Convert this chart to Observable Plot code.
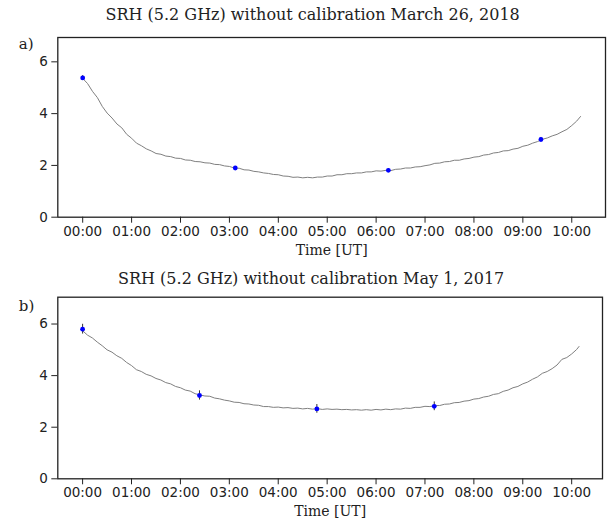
<!DOCTYPE html>
<html>
<head>
<meta charset="utf-8">
<script src="https://cdn.jsdelivr.net/npm/d3@7"></script>
<script src="https://cdn.jsdelivr.net/npm/@observablehq/plot@0.6"></script>
<style>
  html, body { margin: 0; padding: 0; background: #fff; }
  #wrap { width: 612px; height: 524px; position: relative; overflow: hidden; }
  #wrap svg { display: block; }
</style>
</head>
<body>
<div id="wrap"></div>
<script>
// ---------- data ----------
const titleA = "SRH (5.2 GHz) without calibration March 26, 2018";
const titleB = "SRH (5.2 GHz) without calibration May 1, 2017";
const panelA = "a)";
const panelB = "b)";
const xLabel = "Time [UT]";

const tickHours = [0, 1, 2, 3, 4, 5, 6, 7, 8, 9, 10];
const tickLabels = ["00:00","01:00","02:00","03:00","04:00","05:00","06:00","07:00","08:00","09:00","10:00"];
const yTicks = [0, 2, 4, 6];
const yTickLabels = ["0", "2", "4", "6"];

// Panel a: gray curve (time in hours UT, value)
const timeA = [0.0,0.1,0.2,0.3,0.4,0.5,0.6,0.7,0.8,0.9,1.0,1.1,1.2,1.3,1.4,1.5,1.6,1.7,1.8,1.9,
  2.0,2.1,2.2,2.3,2.4,2.5,2.6,2.7,2.8,2.9,3.0,3.1,3.2,3.3,3.4,3.5,3.6,3.7,3.8,3.9,
  4.0,4.1,4.2,4.3,4.4,4.5,4.6,4.7,4.8,4.9,5.0,5.1,5.2,5.3,5.4,5.5,5.6,5.7,5.8,5.9,
  6.0,6.1,6.2,6.3,6.4,6.5,6.6,6.7,6.8,6.9,7.0,7.1,7.2,7.3,7.4,7.5,7.6,7.7,7.8,7.9,
  8.0,8.1,8.2,8.3,8.4,8.5,8.6,8.7,8.8,8.9,9.0,9.1,9.2,9.3,9.4,9.5,9.6,9.7,9.8,9.9,
  10.0,10.1,10.18];
const valueA = [5.36,5.16,4.86,4.62,4.28,4.02,3.83,3.60,3.45,3.20,3.05,2.86,2.76,2.64,2.56,2.46,2.43,2.36,2.34,2.28,
  2.27,2.21,2.20,2.15,2.14,2.10,2.09,2.04,2.03,1.98,1.96,1.90,1.89,1.83,1.82,1.77,1.75,1.71,1.69,1.65,
  1.64,1.59,1.58,1.54,1.55,1.52,1.54,1.52,1.55,1.55,1.59,1.59,1.64,1.64,1.68,1.68,1.71,1.71,1.75,1.75,
  1.79,1.78,1.81,1.80,1.85,1.86,1.90,1.90,1.94,1.95,1.99,2.02,2.08,2.09,2.14,2.15,2.20,2.20,2.25,2.27,
  2.32,2.34,2.40,2.42,2.48,2.50,2.56,2.57,2.63,2.66,2.74,2.78,2.86,2.92,3.01,3.06,3.14,3.20,3.30,3.39,
  3.54,3.71,3.89];
// Panel a: calibration points
const ptTimeA = [0.0, 3.12, 6.25, 9.37];
const ptValueA = [5.38, 1.90, 1.81, 3.00];
const ptErrA = [0.09, 0.06, 0.06, 0.08];

// Panel b: gray curve
const timeB = [0.0,0.1,0.2,0.3,0.4,0.5,0.6,0.7,0.8,0.9,1.0,1.1,1.2,1.3,1.4,1.5,1.6,1.7,1.8,1.9,
  2.0,2.1,2.2,2.3,2.4,2.5,2.6,2.7,2.8,2.9,3.0,3.1,3.2,3.3,3.4,3.5,3.6,3.7,3.8,3.9,
  4.0,4.1,4.2,4.3,4.4,4.5,4.6,4.7,4.8,4.9,5.0,5.1,5.2,5.3,5.4,5.5,5.6,5.7,5.8,5.9,
  6.0,6.1,6.2,6.3,6.4,6.5,6.6,6.7,6.8,6.9,7.0,7.1,7.2,7.3,7.4,7.5,7.6,7.7,7.8,7.9,
  8.0,8.1,8.2,8.3,8.4,8.5,8.6,8.7,8.8,8.9,9.0,9.1,9.2,9.3,9.4,9.5,9.6,9.7,9.8,9.9,
  10.0,10.1,10.15];
const valueB = [5.74,5.57,5.46,5.30,5.16,5.00,4.91,4.77,4.67,4.51,4.39,4.23,4.16,4.05,3.99,3.89,3.83,3.73,3.68,3.58,
  3.53,3.44,3.40,3.30,3.25,3.21,3.20,3.13,3.10,3.05,3.02,2.97,2.96,2.91,2.90,2.86,2.85,2.80,2.80,2.77,
  2.78,2.75,2.76,2.73,2.74,2.71,2.73,2.70,2.72,2.69,2.71,2.69,2.70,2.68,2.69,2.67,2.68,2.66,2.68,2.66,
  2.69,2.67,2.70,2.68,2.71,2.70,2.74,2.73,2.77,2.77,2.81,2.80,2.84,2.84,2.89,2.90,2.95,2.96,3.01,3.03,
  3.09,3.11,3.17,3.20,3.27,3.30,3.39,3.44,3.53,3.58,3.68,3.75,3.86,3.95,4.09,4.16,4.27,4.41,4.63,4.70,
  4.84,5.01,5.13];
// Panel b: calibration points
const ptTimeB = [0.0, 2.39, 4.79, 7.19];
const ptValueB = [5.80, 3.23, 2.71, 2.81];
const ptErrB = [0.19, 0.18, 0.17, 0.17];

// ---------- drawing ----------
const serif = "DejaVu Serif";
const sans = "DejaVu Sans";

function panel(opts) {
  const curve = opts.time.map((t, i) => ({t, v: opts.value[i]}));
  const pts = opts.ptTime.map((t, i) => ({t, v: opts.ptValue[i], e: opts.ptErr[i]}));
  return Plot.plot({
    width: 612,
    height: opts.height,
    marginLeft: 57.3,
    marginRight: opts.marginRight,
    marginTop: opts.marginTop,
    marginBottom: opts.marginBottom,
    style: {fontFamily: sans, fontSize: "13.5px", color: "#222", background: "#fff", overflow: "visible"},
    x: {domain: opts.xDomain, ticks: tickHours, tickFormat: h => tickLabels[tickHours.indexOf(h)],
        tickSize: 6, tickPadding: 3, label: null},
    y: {domain: opts.yDomain, ticks: yTicks, tickFormat: v => yTickLabels[yTicks.indexOf(v)],
        tickSize: 6, tickPadding: 4, label: null},
    marks: [
      Plot.line(curve, {x: "t", y: "v", stroke: "#808080", strokeWidth: 1}),
      Plot.ruleX(pts, {x: "t", y1: d => d.v - d.e, y2: d => d.v + d.e, stroke: "#333", strokeWidth: 1}),
      Plot.dot(pts, {x: "t", y: "v", r: 2.4, fill: "#0000ff", stroke: "none"}),
      Plot.frame({stroke: "#222", strokeWidth: 1.3}),
      Plot.text([xLabel], {frameAnchor: "bottom", lineAnchor: "middle", dy: 33, fontFamily: serif, fontSize: 14, fill: "#222"}),
      Plot.text([opts.title], {frameAnchor: "top", lineAnchor: "middle", dy: opts.titleDy, dx: -19, fontFamily: serif, fontSize: 16, fill: "#222"}),
      Plot.text([opts.tag], {frameAnchor: "top-left", lineAnchor: "middle", textAnchor: "start", dx: -39, dy: opts.tagDy, fontFamily: serif, fontSize: 15, fill: "#222"})
    ]
  });
}

const wrap = document.getElementById("wrap");
wrap.appendChild(panel({
  time: timeA, value: valueA, ptTime: ptTimeA, ptValue: ptValueA, ptErr: ptErrA,
  height: 262, marginTop: 37, marginBottom: 45.3, marginRight: 7,
  xDomain: [-0.509, 10.69], yDomain: [0, 6.94],
  title: titleA, titleDy: -23, tag: panelA, tagDy: 7
}));
wrap.appendChild(panel({
  time: timeB, value: valueB, ptTime: ptTimeB, ptValue: ptValueB, ptErr: ptErrB,
  height: 262, marginTop: 34.7, marginBottom: 45.7, marginRight: 10,
  xDomain: [-0.507, 10.63], yDomain: [0, 7.04],
  title: titleB, titleDy: -18.7, tag: panelB, tagDy: 9
}));
</script>
</body>
</html>
